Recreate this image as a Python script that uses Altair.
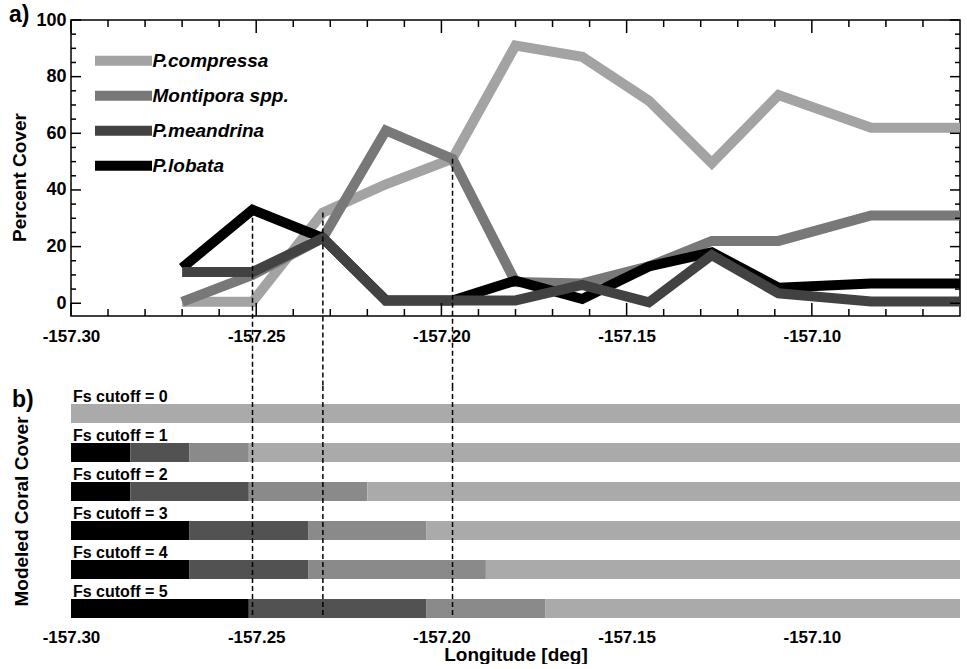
import altair as alt
import pandas as pd

FONT = "Liberation Sans"

# ---- observed percent cover along the transect line ----
longitude = [-157.270, -157.251, -157.232, -157.215, -157.197, -157.180,
             -157.162, -157.144, -157.127, -157.109, -157.084, -157.060]
p_compressa = [0.5, 0.5, 32, 42, 51, 91, 87, 71.5, 49.5, 73.5, 62, 62]
montipora = [0.5, 10, 23, 61, 51, 7.5, 7, 13, 22, 22, 31, 31]
p_meandrina = [11, 11, 23, 1, 1, 1, 6.5, 0.3, 17, 3.5, 0.6, 0.6]
p_lobata = [12.5, 33, 23, 1, 1, 8, 1.5, 13, 18, 5.5, 7, 7]

species = ["P.compressa", "Montipora spp.", "P.meandrina", "P.lobata"]
line_colors = ["#a3a3a3", "#787878", "#424242", "#000000"]
bar_colors = ["#aaaaaa", "#8a8a8a", "#525252", "#000000"]

# transects highlighted by dashed guides (indices into longitude)
marked = [1, 2, 4]

# ---- modeled coral cover: east edge of each species band per cutoff ----
cutoffs = [0, 1, 2, 3, 4, 5]
west_edge = -157.30
east_edge = -157.06
lobata_end = [-157.300, -157.284, -157.284, -157.268, -157.268, -157.252]
meandrina_end = [-157.300, -157.268, -157.252, -157.236, -157.236, -157.204]
montipora_end = [-157.300, -157.252, -157.220, -157.204, -157.188, -157.172]

# ---- axis ticks ----
x_major = [-157.30, -157.25, -157.20, -157.15, -157.10]
x_minor = [round(-157.30 + 0.01 * i, 2) for i in range(1, 24) if i % 5]
y_major = [0, 20, 40, 60, 80, 100]
y_minor = [v for v in range(5, 100, 5) if v % 20]

W, H_TOP, H_BOT, GAP = 889, 296, 232, 70

xscale = alt.Scale(domain=[west_edge, east_edge], nice=False, zero=False)
yscale = alt.Scale(domain=[-4.5, 100], nice=False, zero=False)
lon_labels = "'-' + format(abs(datum.value), '.2f')"

# shared axis definitions (every layer uses the same one so they merge cleanly)
x_axis_top = alt.Axis(values=x_major, labelExpr=lon_labels, ticks=False, domain=False,
                      grid=False, labelPadding=12, labelFontSize=17, labelFlush=False,
                      title="")
y_axis_top = alt.Axis(values=y_major, ticks=False, domain=False, grid=False,
                      labelPadding=5, labelFontSize=18, title="Percent Cover",
                      titleFontSize=19, titlePadding=6, titleY=157)
x_axis_bot = alt.Axis(values=x_major, labelExpr=lon_labels, ticks=False, domain=False,
                      grid=False, labelPadding=11, labelFontSize=17, labelFlush=False,
                      title="Longitude [deg]", titleFontSize=19, titlePadding=0)
y_axis_bot = alt.Axis(labels=False, ticks=False, domain=False, grid=False,
                      title="Modeled Coral Cover", titleFontSize=19, titlePadding=40,
                      titleY=125)

# line table, in drawing order (lobata under meandrina)
draw_order = [("P.compressa", p_compressa), ("Montipora spp.", montipora),
              ("P.lobata", p_lobata), ("P.meandrina", p_meandrina)]
cover = pd.DataFrame(
    [{"lon": lo, "cover": v, "species": name, "k": i}
     for name, vals in draw_order for i, (lo, v) in enumerate(zip(longitude, vals))]
)

lines = alt.Chart(cover).mark_line(strokeWidth=10, clip=True, strokeJoin="miter").encode(
    x=alt.X("lon:Q", scale=xscale, axis=x_axis_top),
    y=alt.Y("cover:Q", scale=yscale, axis=y_axis_top),
    color=alt.Color("species:N", scale=alt.Scale(domain=species, range=line_colors),
                    legend=alt.Legend(orient="none", legendX=37.5, legendY=25.75, title=None,
                                      symbolType="M-2.85,0H2.85", symbolSize=400,
                                      symbolStrokeWidth=10, labelFontSize=19,
                                      labelFontWeight="bold", labelFontStyle="italic",
                                      labelOffset=14, rowPadding=-9, padding=0,
                                      labelColor="black")),
    order="k:Q",
)


def edge_ticks(values, length, side, h):
    d = pd.DataFrame({"v": values})
    base = alt.Chart(d).mark_rule(color="black", strokeWidth=1.5)
    if side in ("bottom", "top"):
        x = alt.X("v:Q", scale=xscale, axis=x_axis_top)
        if side == "bottom":
            return base.encode(x=x, y=alt.value(h), y2=alt.value(h - length))
        return base.encode(x=x, y=alt.value(0), y2=alt.value(length))
    y = alt.Y("v:Q", scale=yscale, axis=y_axis_top)
    if side == "left":
        return base.encode(y=y, x=alt.value(0), x2=alt.value(length))
    return base.encode(y=y, x=alt.value(W), x2=alt.value(W - length))


tick_layers = [
    edge_ticks(x_major, 13, "bottom", H_TOP), edge_ticks(x_minor, 7, "bottom", H_TOP),
    edge_ticks(x_major, 13, "top", H_TOP), edge_ticks(x_minor, 7, "top", H_TOP),
    edge_ticks(y_major, 10, "left", H_TOP), edge_ticks(y_minor, 5, "left", H_TOP),
    edge_ticks(y_major, 10, "right", H_TOP), edge_ticks(y_minor, 5, "right", H_TOP),
]

guides = pd.DataFrame({
    "lon": [longitude[i] for i in marked],
    "top": [max(p_compressa[i], montipora[i], p_meandrina[i], p_lobata[i]) for i in marked],
})
guide_top = alt.Chart(guides).mark_rule(strokeDash=[5, 3], strokeWidth=1.5, color="black").encode(
    x=alt.X("lon:Q", scale=xscale, axis=x_axis_top),
    y=alt.Y("top:Q", scale=yscale, axis=y_axis_top),
    y2=alt.value(H_TOP + GAP),
)

top = alt.layer(lines, *tick_layers, guide_top).properties(
    width=W, height=H_TOP,
    title=alt.TitleParams("a)", anchor="start", frame="group", dx=-62, dy=34, offset=0,
                          baseline="alphabetic", fontSize=23),
    view=alt.ViewBackground(stroke="black", strokeWidth=1.5),
)

# ---- bottom panel: segmented bars ----
row_labels = [f"Fs cutoff = {c}" for c in cutoffs]
segs = []
for j, lab in enumerate(row_labels):
    edges = [west_edge, lobata_end[j], meandrina_end[j], montipora_end[j], east_edge]
    for name, a, b in zip(["P.lobata", "P.meandrina", "Montipora spp.", "P.compressa"],
                          edges[:-1], edges[1:]):
        segs.append({"row": lab, "species": name, "start": a, "end": b})
segs = pd.DataFrame(segs)

row_y = alt.Scale(paddingInner=0.513, paddingOuter=0.2308, align=1)
bars = alt.Chart(segs).mark_bar().encode(
    x=alt.X("start:Q", scale=xscale, axis=x_axis_bot),
    x2="end:Q",
    y=alt.Y("row:N", sort=row_labels, scale=row_y, axis=y_axis_bot),
    color=alt.Color("species:N", scale=alt.Scale(domain=species, range=bar_colors), legend=None),
)

rows = pd.DataFrame({"row": row_labels, "x0": [west_edge] * len(row_labels)})
tags = alt.Chart(rows).mark_text(align="left", baseline="alphabetic", dx=2, dy=-2,
                                 fontSize=16, fontWeight="bold", font=FONT, color="black").encode(
    x=alt.X("x0:Q", scale=xscale, axis=x_axis_bot),
    y=alt.Y("row:N", sort=row_labels, scale=row_y, bandPosition=0, axis=y_axis_bot),
    text="row:N",
)

guide_bot = alt.Chart(guides).mark_rule(strokeDash=[5, 3], strokeWidth=1.5, color="black").encode(
    x=alt.X("lon:Q", scale=xscale, axis=x_axis_bot),
    y=alt.value(0),
    y2=alt.value(H_BOT),
)

bottom = alt.layer(bars, tags, guide_bot).properties(
    width=W, height=H_BOT,
    title=alt.TitleParams("b)", anchor="start", frame="group", dx=-59, dy=45, offset=0,
                          baseline="alphabetic", fontSize=23),
    view=alt.ViewBackground(strokeOpacity=0),
)

chart = (
    alt.vconcat(top, bottom, spacing=GAP, bounds="flush")
    .resolve_scale(color="independent")
    .properties(padding={"left": 8, "top": 3, "right": 5, "bottom": 0})
    .configure(font=FONT)
    .configure_axis(labelFont=FONT, titleFont=FONT, labelFontWeight="bold",
                    titleFontWeight="bold", labelColor="black", titleColor="black")
    .configure_legend(labelFont=FONT)
    .configure_title(font=FONT, fontWeight="bold", color="black")
)

chart.save("out.html", embed_options={"renderer": "svg", "actions": False})
